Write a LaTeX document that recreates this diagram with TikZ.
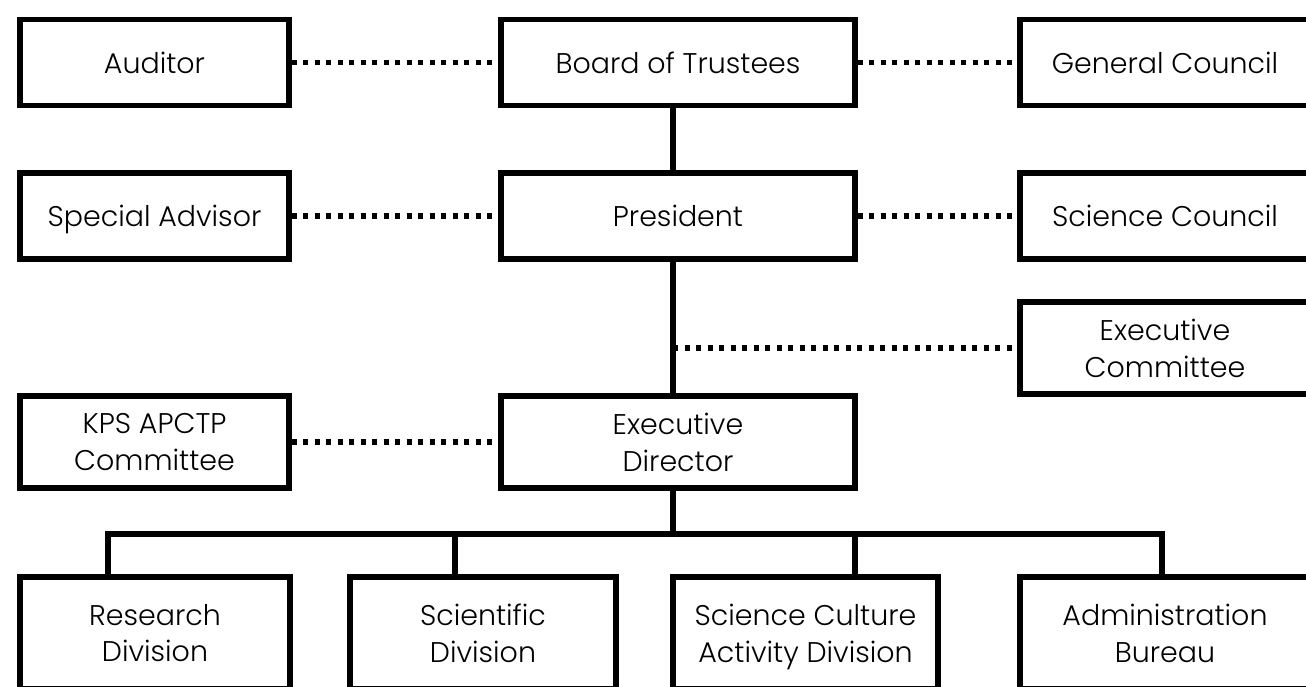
\documentclass[tikz,border=0pt]{standalone}
\usepackage{fontspec}
\setmainfont{Poppins}[UprightFont=* Light]
\begin{document}
\begin{tikzpicture}[x=0.2mm, y=-0.2mm, line join=miter,
    box/.style={draw, line width=3.1pt, align=center, inner sep=0pt,
      minimum width=#1, text depth=0pt, font=\fontsize{16.2}{21}\selectfont},
    link/.style={line width=3pt},
    dotlink/.style={line width=3.2pt, dash pattern=on 1mm off 1.3mm}]
  \useasboundingbox (0,0) rectangle (1306,687);
  \clip (0,0) rectangle (1306,687);

  % 1. boxes, row by row
  \node[box=53.8mm, minimum height=17.2mm] (auditor) at (154.5,62.5) {Auditor};
  \node[box=70.8mm, minimum height=17.2mm] (board) at (678,62.5) {Board of Trustees};
  \node[box=58mm, minimum height=17.2mm] (council) at (1165,62.5) {General Council};

  \node[box=53.8mm, minimum height=17.2mm] (advisor) at (154.5,216) {Special Advisor};
  \node[box=70.8mm, minimum height=17.2mm] (president) at (678,216) {President};
  \node[box=58mm, minimum height=17.2mm] (science) at (1165,216) {Science Council};

  \node[box=58mm, minimum height=18.4mm] (excom) at (1165,348) {Executive\\Committee};

  \node[box=53.8mm, minimum height=18.4mm] (kps) at (154.5,442) {KPS APCTP\\Committee};
  \node[box=70.8mm, minimum height=18.4mm] (director) at (678,442) {Executive\\Director};

  \node[box=54mm, minimum height=22.4mm] (research) at (155,633) {Research\\Division};
  \node[box=53.2mm, minimum height=22.4mm] (scientific) at (483,633) {Scientific\\Division};
  \node[box=53mm, minimum height=22.4mm] (culture) at (805.5,633) {Science Culture\\Activity Division};
  \node[box=58mm, minimum height=22.4mm] (admin) at (1165,633) {Administration\\Bureau};

  % 2. solid chain of command
  \coordinate (spine) at (673,0);
  \coordinate (busA) at (108,534);
  \coordinate (busB) at (455,534);
  \coordinate (busC) at (855,534);
  \coordinate (busD) at (1162,534);
  \draw[link] (spine |- board.south) -- (spine |- president.north);
  \draw[link] (spine |- president.south) -- (spine |- director.north);
  \draw[link] (spine |- director.south) -- (spine |- busA);
  \draw[link] (busA |- research.north) -- (busA) -- (busD) -- (busD |- admin.north);
  \draw[link] (busB) -- (busB |- scientific.north);
  \draw[link] (busC) -- (busC |- culture.north);

  % 3. dotted advisory links
  \draw[dotlink] (auditor) -- (board);
  \draw[dotlink] (board) -- (council);
  \draw[dotlink] (advisor) -- (president);
  \draw[dotlink] (president) -- (science);
  \draw[dotlink] (kps) -- (director);
  \draw[dotlink] (spine |- excom.west) -- (excom.west);
\end{tikzpicture}
\end{document}
